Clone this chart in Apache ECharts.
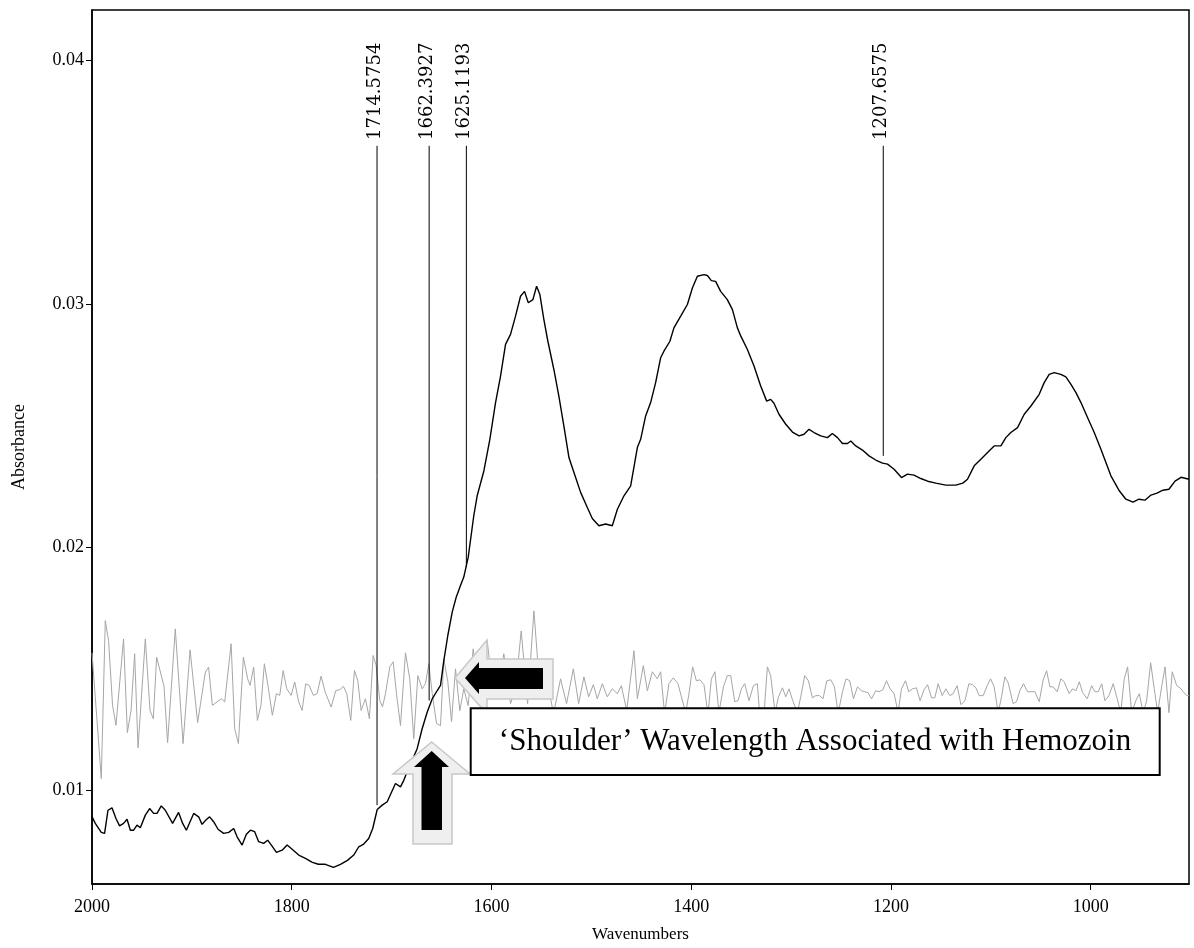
<!DOCTYPE html>
<html>
<head>
<meta charset="utf-8">
<script src="https://cdn.jsdelivr.net/npm/echarts@6/dist/echarts.min.js"></script>
<style>
  html, body { margin: 0; padding: 0; background: #fff; }
  #spectrum { width: 1194px; height: 948px; }
</style>
</head>
<body>
<div id="spectrum"></div>
<script>
// sample spectrum (black)
var blackWn = [
  2000, 1996.7, 1990.7, 1987.4, 1984.0, 1980.0, 1976.0, 1972.4, 1968.4, 1964.9,
  1961.6, 1958.3, 1954.9, 1951.6, 1946.6, 1942.3, 1938.3, 1934.9, 1930.6, 1926.6,
  1919.3, 1913.3, 1909.2, 1905.5, 1898.2, 1893.2, 1889.8, 1886.2, 1882.2, 1878.2,
  1873.8, 1868.2, 1863.1, 1858.1, 1854.7, 1849.7, 1845.4, 1841.4, 1837.1, 1833.1,
  1828.1, 1824.1, 1820.4, 1815.3, 1809.6, 1804.6, 1799.6, 1793.0, 1786.3, 1779.3,
  1773.3, 1766.3, 1758.2, 1751.2, 1744.2, 1737.9, 1732.9, 1727.9, 1722.9, 1718.9,
  1714.4, 1709.4, 1704.4, 1701.1, 1696.1, 1691.1, 1687.8, 1684.4, 1679.4, 1674.4,
  1669.4, 1664.3, 1659.3, 1654.3, 1651.0, 1647.7, 1643.7, 1639.3, 1635.3, 1631.0,
  1627.7, 1623.3, 1617.7, 1614.3, 1607.6, 1601.6, 1595.9, 1590.9, 1585.9, 1580.9,
  1575.9, 1570.9, 1566.9, 1563.1, 1558.5, 1554.8, 1551.5, 1547.5, 1543.5, 1537.5,
  1532.5, 1527.5, 1522.4, 1517.4, 1510.7, 1504.0, 1499.0, 1492.4, 1485.7, 1479.0,
  1473.9, 1467.3, 1460.6, 1453.9, 1450.6, 1445.6, 1440.6, 1435.6, 1430.6, 1427.3,
  1421.3, 1417.3, 1410.5, 1403.8, 1398.8, 1393.8, 1387.2, 1383.8, 1379.8, 1375.5,
  1370.5, 1363.8, 1358.7, 1353.7, 1350.4, 1343.7, 1337.1, 1330.4, 1324.4, 1320.4,
  1317.1, 1312.1, 1305.3, 1298.6, 1292.0, 1287.0, 1282.0, 1277.0, 1270.3, 1263.6,
  1258.6, 1253.5, 1248.5, 1243.5, 1240.2, 1235.2, 1228.5, 1221.9, 1215.2, 1208.4,
  1203.4, 1196.8, 1189.4, 1183.4, 1176.8, 1170.1, 1163.2, 1155.0, 1145.0, 1135.0,
  1128.0, 1123.3, 1116.6, 1109.9, 1103.2, 1096.6, 1089.9, 1084.9, 1079.9, 1073.2,
  1066.5, 1059.8, 1051.5, 1046.5, 1041.5, 1036.5, 1029.8, 1024.8, 1019.7, 1014.7,
  1009.7, 1003.0, 996.4, 989.7, 984.7, 979.7, 971.7, 964.7, 957.6, 951.6,
  945.6, 939.6, 933.6, 927.6, 921.6, 915.5, 909.5, 901.5
];
var blackAbs = [
  0.00893, 0.00865, 0.00828, 0.00824, 0.00919, 0.00929, 0.00885, 0.00855, 0.00865, 0.00882,
  0.00837, 0.00837, 0.00858, 0.00847, 0.00899, 0.00926, 0.00906, 0.00906, 0.00937, 0.00919,
  0.00865, 0.00910, 0.00865, 0.00837, 0.00906, 0.00892, 0.00861, 0.00878, 0.00892, 0.00872,
  0.00841, 0.00824, 0.00828, 0.00844, 0.00810, 0.00776, 0.00820, 0.00837, 0.00831, 0.00790,
  0.00783, 0.00796, 0.00776, 0.00746, 0.00755, 0.00776, 0.00759, 0.00735, 0.00721, 0.00705,
  0.00697, 0.00697, 0.00684, 0.00697, 0.00713, 0.00735, 0.00769, 0.00780, 0.00803, 0.00844,
  0.00922, 0.00940, 0.00954, 0.00984, 0.01029, 0.01015, 0.01042, 0.01077, 0.01124, 0.01172,
  0.01254, 0.01323, 0.01377, 0.01411, 0.01432, 0.01534, 0.01637, 0.01733, 0.01794, 0.01842,
  0.01877, 0.01958, 0.02129, 0.02211, 0.02313, 0.02443, 0.02594, 0.02703, 0.02833, 0.02874,
  0.02949, 0.03031, 0.03051, 0.03004, 0.03017, 0.03072, 0.03038, 0.02935, 0.02846, 0.02730,
  0.02621, 0.02498, 0.02368, 0.02307, 0.02225, 0.02163, 0.02118, 0.02088, 0.02095, 0.02088,
  0.02156, 0.02211, 0.02252, 0.02409, 0.02443, 0.02539, 0.02594, 0.02676, 0.02778, 0.02805,
  0.02846, 0.02901, 0.02949, 0.02997, 0.03065, 0.03113, 0.03120, 0.03116, 0.03095, 0.03092,
  0.03051, 0.03017, 0.02976, 0.02901, 0.02868, 0.02812, 0.02744, 0.02662, 0.02600, 0.02607,
  0.02591, 0.02546, 0.02505, 0.02473, 0.02457, 0.02464, 0.02484, 0.02471, 0.02457, 0.02450,
  0.02467, 0.02450, 0.02426, 0.02426, 0.02436, 0.02416, 0.02399, 0.02375, 0.02358, 0.02345,
  0.02341, 0.02320, 0.02286, 0.02300, 0.02296, 0.02282, 0.02271, 0.02263, 0.02255, 0.02255,
  0.02263, 0.02279, 0.02334, 0.02361, 0.02389, 0.02416, 0.02416, 0.02450, 0.02471, 0.02491,
  0.02546, 0.02580, 0.02628, 0.02676, 0.02710, 0.02717, 0.02710, 0.02700, 0.02669, 0.02635,
  0.02594, 0.02532, 0.02471, 0.02402, 0.02348, 0.02293, 0.02234, 0.02197, 0.02185, 0.02197,
  0.02193, 0.02214, 0.02222, 0.02234, 0.02238, 0.02271, 0.02287, 0.02279
];

// reference spectrum (grey, noisy)
var greyWn = [
  2000, 1990.7, 1986.7, 1983.4, 1979.4, 1976.0, 1968.4, 1964.6, 1960.9, 1957.3,
  1953.9, 1946.6, 1941.9, 1938.6, 1935.3, 1927.9, 1924.3, 1916.6, 1908.8, 1901.8,
  1894.2, 1886.5, 1883.2, 1879.5, 1874.8, 1870.4, 1867.1, 1860.7, 1857.1, 1853.4,
  1848.4, 1844.1, 1841.7, 1838.1, 1834.4, 1830.7, 1827.4, 1823.7, 1819.4, 1815.3,
  1812.0, 1808.6, 1805.0, 1800.6, 1797.0, 1793.0, 1789.6, 1786.0, 1782.6, 1778.3,
  1774.6, 1770.6, 1766.3, 1760.5, 1755.9, 1751.9, 1748.2, 1744.9, 1740.9, 1737.2,
  1733.9, 1730.5, 1726.2, 1722.2, 1718.5, 1715.5, 1711.8, 1709.1, 1706.1, 1701.8,
  1698.4, 1695.1, 1691.1, 1686.1, 1681.8, 1677.8, 1673.7, 1669.4, 1666.1, 1662.7,
  1659.3, 1655.0, 1651.0, 1647.7, 1643.7, 1640.0, 1636.0, 1631.7, 1627.7, 1623.3,
  1618.3, 1611.9, 1604.2, 1597.9, 1592.9, 1587.6, 1580.9, 1575.9, 1570.2, 1563.8,
  1557.5, 1550.8, 1544.8, 1537.8, 1530.8, 1524.8, 1518.0, 1512.7, 1507.4, 1502.7,
  1498.0, 1494.0, 1489.0, 1484.0, 1479.0, 1473.9, 1469.9, 1464.6, 1457.3, 1453.9,
  1447.9, 1443.9, 1438.9, 1433.9, 1430.6, 1426.6, 1422.3, 1417.9, 1413.2, 1409.8,
  1405.5, 1402.2, 1398.5, 1394.8, 1391.2, 1387.2, 1383.2, 1379.8, 1376.2, 1372.2,
  1367.7, 1363.8, 1360.4, 1356.4, 1353.1, 1349.7, 1346.4, 1342.1, 1337.7, 1333.7,
  1331.4, 1327.1, 1323.7, 1320.4, 1316.0, 1312.6, 1308.6, 1305.3, 1302.0, 1298.3,
  1293.6, 1290.3, 1286.3, 1282.6, 1278.6, 1275.3, 1271.6, 1268.0, 1264.2, 1260.2,
  1256.5, 1252.9, 1248.5, 1244.9, 1241.2, 1237.5, 1233.5, 1229.5, 1226.2, 1222.9,
  1219.4, 1215.2, 1211.8, 1208.1, 1204.4, 1200.8, 1196.8, 1192.8, 1189.4, 1185.4,
  1182.1, 1178.4, 1174.4, 1170.8, 1166.8, 1163.3, 1159.3, 1156.0, 1152.7, 1148.7,
  1145.0, 1141.0, 1137.7, 1133.7, 1129.9, 1125.9, 1121.9, 1118.3, 1114.9, 1111.6,
  1107.6, 1103.6, 1100.2, 1096.6, 1092.6, 1089.2, 1085.9, 1082.6, 1077.6, 1074.2,
  1070.9, 1067.2, 1063.2, 1059.8, 1055.8, 1051.5, 1047.5, 1044.1, 1040.8, 1037.5,
  1033.5, 1029.8, 1026.5, 1021.5, 1018.1, 1014.7, 1011.4, 1008.0, 1003.4, 999.0,
  995.7, 992.4, 988.9, 985.7, 981.7, 977.4, 973.4, 969.9, 966.3, 963.0,
  958.9, 954.7, 951.3, 947.3, 943.9, 939.9, 936.3, 932.9, 928.9, 925.5,
  921.6, 918.3, 913.8, 910.5, 907.2, 903.8, 901.5
];
var greyAbs = [
  0.01566, 0.01049, 0.01698, 0.01616, 0.01350, 0.01268, 0.01623, 0.01238, 0.01329, 0.01562,
  0.01176, 0.01623, 0.01329, 0.01295, 0.01548, 0.01429, 0.01197, 0.01664, 0.01193, 0.01578,
  0.01279, 0.01487, 0.01507, 0.01350, 0.01364, 0.01377, 0.01364, 0.01603, 0.01254, 0.01193,
  0.01548, 0.01459, 0.01432, 0.01507, 0.01288, 0.01353, 0.01521, 0.01429, 0.01309, 0.01398,
  0.01391, 0.01493, 0.01418, 0.01391, 0.01446, 0.01364, 0.01329, 0.01439, 0.01432, 0.01391,
  0.01398, 0.01470, 0.01402, 0.01343, 0.01411, 0.01414, 0.01428, 0.01398, 0.01288, 0.01493,
  0.01452, 0.01329, 0.01377, 0.01295, 0.01555, 0.01514, 0.01370, 0.01344, 0.01398, 0.01508,
  0.01529, 0.01398, 0.01267, 0.01566, 0.01459, 0.01213, 0.01472, 0.01418, 0.01439, 0.01521,
  0.01398, 0.01275, 0.01267, 0.01541, 0.01447, 0.01283, 0.01500, 0.01328, 0.01418, 0.01349,
  0.01582, 0.01377, 0.01615, 0.01377, 0.01418, 0.01562, 0.01357, 0.01418, 0.01656, 0.01357,
  0.01738, 0.01377, 0.01459, 0.01316, 0.01459, 0.01357, 0.01500, 0.01357, 0.01467, 0.01385,
  0.01435, 0.01377, 0.01439, 0.01385, 0.01418, 0.01398, 0.01431, 0.01328, 0.01574, 0.01377,
  0.01513, 0.01410, 0.01488, 0.01459, 0.01488, 0.01316, 0.01439, 0.01463, 0.01439, 0.01385,
  0.01320, 0.01398, 0.01508, 0.01451, 0.01455, 0.01435, 0.01312, 0.01459, 0.01488, 0.01320,
  0.01426, 0.01472, 0.01472, 0.01365, 0.01369, 0.01418, 0.01439, 0.01369, 0.01431, 0.01439,
  0.01312, 0.01312, 0.01508, 0.01472, 0.01320, 0.01385, 0.01422, 0.01385, 0.01418, 0.01369,
  0.01320, 0.01385, 0.01472, 0.01451, 0.01381, 0.01390, 0.01390, 0.01377, 0.01451, 0.01455,
  0.01426, 0.01316, 0.01406, 0.01459, 0.01451, 0.01377, 0.01426, 0.01410, 0.01406, 0.01402,
  0.01377, 0.01410, 0.01406, 0.01414, 0.01451, 0.01418, 0.01398, 0.01320, 0.01418, 0.01451,
  0.01406, 0.01418, 0.01422, 0.01369, 0.01414, 0.01435, 0.01381, 0.01381, 0.01439, 0.01390,
  0.01418, 0.01390, 0.01398, 0.01431, 0.01353, 0.01369, 0.01439, 0.01435, 0.01422, 0.01390,
  0.01390, 0.01431, 0.01459, 0.01426, 0.01320, 0.01385, 0.01467, 0.01443, 0.01357, 0.01365,
  0.01410, 0.01439, 0.01406, 0.01406, 0.01406, 0.01365, 0.01455, 0.01492, 0.01426, 0.01426,
  0.01406, 0.01459, 0.01447, 0.01398, 0.01418, 0.01410, 0.01447, 0.01402, 0.01377, 0.01431,
  0.01406, 0.01406, 0.01439, 0.01369, 0.01390, 0.01439, 0.01377, 0.01320, 0.01459, 0.01508,
  0.01320, 0.01369, 0.01398, 0.01320, 0.01369, 0.01525, 0.01418, 0.01320, 0.01426, 0.01508,
  0.01320, 0.01488, 0.01431, 0.01422, 0.01406, 0.01390, 0.01390
];

// labelled peaks
var peakWn = [1714.5754, 1662.3927, 1625.1193, 1207.6575];
var peakAbs = [0.00940, 0.01370, 0.01918, 0.02375];

var xTicks = [2000, 1800, 1600, 1400, 1200, 1000];
var yTicks = [0.01, 0.02, 0.03, 0.04];

var peakLineTop = 0.03649;
var peakLabelBase = 0.03673;

var chart = echarts.init(document.getElementById('spectrum'));

function pairs(xs, ys) {
  return xs.map(function (x, i) { return [x, ys[i]]; });
}

var serif = '"Liberation Serif", "Times New Roman", serif';

var option = {
  animation: false,
  backgroundColor: '#fff',
  grid: {
    left: 92, right: 5, top: 10, bottom: 62,
    show: true, borderColor: '#000', borderWidth: 1.5
  },
  xAxis: {
    type: 'value',
    inverse: true,
    min: 901.5,
    max: 2000,
    name: 'Wavenumbers',
    nameLocation: 'middle',
    nameGap: 42,
    nameTextStyle: { fontFamily: serif, fontSize: 17, color: '#000' },
    axisLine: { lineStyle: { color: '#000', width: 1.5 } },
    axisTick: { show: true, length: 6, customValues: xTicks, lineStyle: { color: '#000' } },
    axisLabel: {
      customValues: xTicks, fontFamily: serif, fontSize: 18, color: '#000', margin: 14,
      formatter: function (v) { return String(v); }
    },
    splitLine: { show: false }
  },
  yAxis: {
    type: 'value',
    min: 0.00616,
    max: 0.04207,
    name: 'Absorbance',
    nameLocation: 'middle',
    nameGap: 64,
    nameTextStyle: { fontFamily: serif, fontSize: 18, color: '#000' },
    axisLine: { show: true, lineStyle: { color: '#000', width: 1.5 } },
    axisTick: { show: true, length: 6, customValues: yTicks, lineStyle: { color: '#000' } },
    axisLabel: {
      customValues: yTicks, fontFamily: serif, fontSize: 18, color: '#000', margin: 8,
      formatter: function (v) { return v.toFixed(2); }
    },
    splitLine: { show: false }
  },
  series: [
    {
      name: 'reference',
      type: 'line',
      data: pairs(greyWn, greyAbs),
      showSymbol: false,
      lineStyle: { color: '#a6a6a6', width: 1 },
      z: 2
    },
    {
      name: 'sample',
      type: 'line',
      data: pairs(blackWn, blackAbs),
      showSymbol: false,
      lineStyle: { color: '#000', width: 1.4 },
      z: 3
    },
    {
      name: 'peaks',
      type: 'custom',
      data: pairs(peakWn, peakAbs),
      z: 4,
      renderItem: function (params, api) {
        var wn = api.value(0);
        var foot = api.coord([wn, api.value(1)]);
        var head = api.coord([wn, peakLineTop]);
        var lab = api.coord([wn, peakLabelBase]);
        return {
          type: 'group',
          children: [
            {
              type: 'line',
              shape: { x1: foot[0], y1: foot[1], x2: head[0], y2: head[1] },
              style: { stroke: '#000', lineWidth: 1 }
            },
            {
              type: 'text',
              x: lab[0] - 2,
              y: lab[1],
              rotation: Math.PI / 2,
              style: {
                text: wn.toFixed(4),
                font: '18px "DejaVu Serif"',
                fill: '#000',
                align: 'left',
                verticalAlign: 'middle'
              }
            }
          ]
        };
      }
    }
  ],
  graphic: [
    // left-pointing arrow, grey halo then black body
    {
      type: 'polygon', z: 100,
      shape: { points: [[455, 678], [487, 640], [487, 659], [553, 659], [553, 699], [487, 699], [487, 714]] },
      style: { fill: '#efefef', stroke: '#c8c8c8', lineWidth: 1.5 }
    },
    {
      type: 'polygon', z: 101,
      shape: { points: [[465, 678], [479, 662], [479, 668], [543, 668], [543, 689], [479, 689], [479, 694]] },
      style: { fill: '#000' }
    },
    // upward arrow
    {
      type: 'polygon', z: 100,
      shape: { points: [[431.7, 742], [470, 774], [452, 774], [452, 844], [413, 844], [413, 774], [393, 774]] },
      style: { fill: '#efefef', stroke: '#c8c8c8', lineWidth: 1.5 }
    },
    {
      type: 'polygon', z: 101,
      shape: { points: [[431.7, 751], [449, 767], [442, 767], [442, 830], [421.5, 830], [421.5, 767], [414, 767]] },
      style: { fill: '#000' }
    },
    // caption box
    {
      type: 'rect', z: 102,
      shape: { x: 470.7, y: 708.3, width: 689, height: 66.7 },
      style: { fill: '#fff', stroke: '#000', lineWidth: 2 }
    },
    {
      type: 'text', z: 103,
      x: 815, y: 742,
      style: {
        text: '\u2018Shoulder\u2019 Wavelength Associated with Hemozoin',
        font: '31px "Liberation Serif"',
        fill: '#000',
        align: 'center',
        verticalAlign: 'middle'
      }
    }
  ]
};

chart.setOption(option);
</script>
</body>
</html>
